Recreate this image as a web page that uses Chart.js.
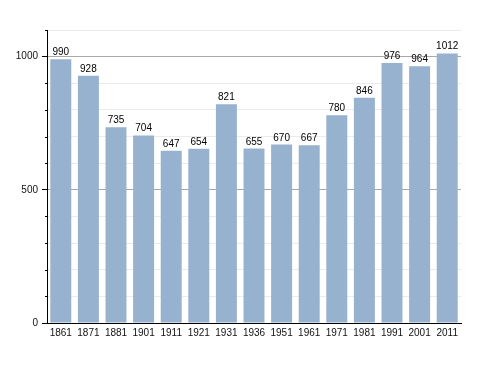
<!DOCTYPE html>
<html>
<head>
<meta charset="utf-8">
<script src="https://cdn.jsdelivr.net/npm/chart.js@4/dist/chart.umd.min.js"></script>
<style>
  html, body { margin: 0; padding: 0; background: #fff; }
  #wrap { width: 488px; height: 373px; }
</style>
</head>
<body>
<div id="wrap"><canvas id="c" width="488" height="373"></canvas></div>
<script>
// données
const annees = ["1861", "1871", "1881", "1901", "1911", "1921", "1931", "1936", "1951", "1961", "1971", "1981", "1991", "2001", "2011"];
const population = [990, 928, 735, 704, 647, 654, 821, 655, 670, 667, 780, 846, 976, 964, 1012];
const yTicks = [0, 500, 1000];

const FONT = "'Liberation Sans', Arial, sans-serif";

// valeurs au-dessus des barres
const valueLabels = {
  id: "valueLabels",
  afterDatasetsDraw(chart) {
    const ctx = chart.ctx;
    const meta = chart.getDatasetMeta(0);
    ctx.save();
    ctx.font = "10px " + FONT;
    ctx.fillStyle = "#000";
    ctx.textAlign = "center";
    ctx.textBaseline = "alphabetic";
    meta.data.forEach((bar, i) => {
      ctx.fillText(String(population[i]), bar.x, bar.y - 4);
    });
    ctx.restore();
  }
};

// petites graduations intermédiaires
const minorTicks = {
  id: "minorTicks",
  afterDraw(chart) {
    const y = chart.scales.y;
    const ctx = chart.ctx;
    ctx.save();
    ctx.strokeStyle = "#000";
    ctx.lineWidth = 1;
    y.ticks.forEach(t => {
      if (yTicks.includes(t.value)) return;
      const py = Math.round(y.getPixelForValue(t.value)) + 0.5;
      ctx.beginPath();
      ctx.moveTo(y.right - 2, py);
      ctx.lineTo(y.right, py);
      ctx.stroke();
    });
    ctx.restore();
  }
};

new Chart(document.getElementById("c"), {
  type: "bar",
  data: {
    labels: annees,
    datasets: [{
      data: population,
      backgroundColor: "#97b2ce",
      borderWidth: 0,
      categoryPercentage: 1,
      barPercentage: 0.76
    }]
  },
  options: {
    responsive: false,
    animation: false,
    layout: { padding: { top: 30, right: 27, bottom: 29, left: 0 } },
    plugins: { legend: { display: false }, tooltip: { enabled: false } },
    scales: {
      x: {
        grid: { display: false, drawTicks: false },
        border: { display: true, color: "#000", width: 1 },
        ticks: { color: "#111", font: { family: FONT, size: 10 }, padding: 4, maxRotation: 0, autoSkip: false },
        afterFit(scale) { scale.height = 21; }
      },
      y: {
        min: 0,
        max: 1100,
        border: { display: true, color: "#000", width: 1 },
        grid: {
          color: ctx => {
            const v = ctx.tick.value;
            if (v === 0) return "rgba(0,0,0,0)";
            return (v === 500 || v === 1000) ? "#a8a8a8" : "#ebebeb";
          },
          tickColor: ctx => yTicks.includes(ctx.tick.value) ? "#000" : "rgba(0,0,0,0)",
          tickLength: 5
        },
        ticks: {
          stepSize: 100,
          color: "#111",
          padding: 4,
          font: { family: FONT, size: 10 },
          callback: v => yTicks.includes(v) ? String(v) : ""
        },
        afterFit(scale) { scale.width = 47; }
      }
    }
  },
  plugins: [valueLabels, minorTicks]
});
</script>
</body>
</html>
